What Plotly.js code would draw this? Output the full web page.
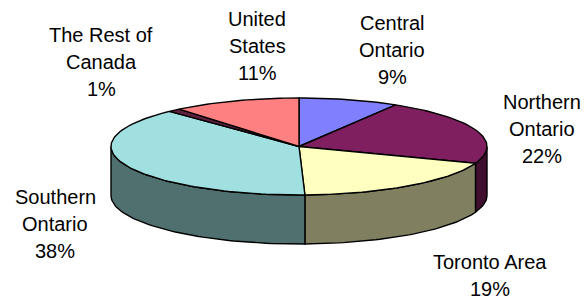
<!DOCTYPE html>
<html>
<head>
<meta charset="utf-8">
<script src="https://cdn.plot.ly/plotly-3.0.1.min.js"></script>
<style>html,body{margin:0;padding:0;background:#fff;}#chart{width:586px;height:300px;}</style>
</head>
<body>
<div id="chart"></div>
<script>
// Data
const categories = ['Central Ontario', 'Northern Ontario', 'Toronto Area', 'Southern Ontario', 'The Rest of Canada', 'United States'];
const values = [8.6, 22.0, 18.9, 38.4, 1.1, 11.0];
const labelLines = [['Central', 'Ontario'], ['Northern', 'Ontario'], ['Toronto Area'], ['Southern', 'Ontario'], ['The Rest of', 'Canada'], ['United', 'States']];
const topColors = ['#8080FF', '#801F60', '#FFFFC0', '#A0E0E0', '#602040', '#FF8080'];
const sideColors = ['#404080', '#400F30', '#808060', '#507070', '#301020', '#804040'];
// label anchor positions (pixel space): center x, first-line y
const labelPos = [[392, 23], [542, 102], [490, 262], [55, 197], [101, 35], [257, 19]];

// Geometry (pixel space)
const cx = 299, cy = 146.5, rx = 188, ry = 48.5, depth = 49;
const lineSpacing = 27;

const total = values.reduce((a, b) => a + b, 0);
function pt(deg, dy) {
  const r = deg * Math.PI / 180;
  return [cx + rx * Math.cos(r), cy - ry * Math.sin(r) + (dy || 0)];
}
function arc(a, b, dy) {
  const n = Math.max(2, Math.ceil(Math.abs(a - b) / 1.5));
  const out = [];
  for (let i = 0; i <= n; i++) out.push(pt(a + (b - a) * i / n, dy));
  return out;
}

const traces = [];
const tops = [];
let cum = 0;
values.forEach((v, i) => {
  const start = 90 - 360 * cum / total;
  const end = start - 360 * v / total;
  cum += v;
  // side wall (visible part: -180..0)
  const a = Math.min(start, 0), b = Math.max(end, -180);
  if (a > b) {
    const pts = arc(a, b, 0).concat(arc(b, a, depth));
    pts.push(pts[0]);
    traces.push({
      type: 'scatter', mode: 'lines', fill: 'toself',
      x: pts.map(p => p[0]), y: pts.map(p => p[1]),
      fillcolor: sideColors[i], line: {color: '#000', width: 1.4},
      hoverinfo: 'skip', name: categories[i]
    });
  }
  // top face
  const tp = [[cx, cy]].concat(arc(start, end, 0));
  tp.push([cx, cy]);
  tops.push({
    type: 'scatter', mode: 'lines', fill: 'toself',
    x: tp.map(p => p[0]), y: tp.map(p => p[1]),
    fillcolor: topColors[i], line: {color: '#000', width: 1.4},
    hoverinfo: 'skip', name: categories[i]
  });
});

const annotations = [];
values.forEach((v, i) => {
  const lines = labelLines[i].concat([Math.round(100 * v / total) + '%']);
  lines.forEach((t, k) => {
    annotations.push({
      x: labelPos[i][0], y: labelPos[i][1] + k * lineSpacing,
      xref: 'x', yref: 'y', text: t, showarrow: false,
      xanchor: 'center', yanchor: 'middle',
      font: {family: 'Liberation Sans, Arial, sans-serif', size: 20, color: '#000'}
    });
  });
});

const layout = {
  width: 586, height: 300,
  margin: {l: 0, r: 0, t: 0, b: 0},
  paper_bgcolor: '#fff', plot_bgcolor: '#fff',
  showlegend: false,
  xaxis: {range: [0, 586], visible: false, fixedrange: true},
  yaxis: {range: [300, 0], visible: false, fixedrange: true},
  annotations: annotations
};

Plotly.newPlot('chart', traces.concat(tops), layout, {displayModeBar: false, staticPlot: true});
</script>
</body>
</html>
